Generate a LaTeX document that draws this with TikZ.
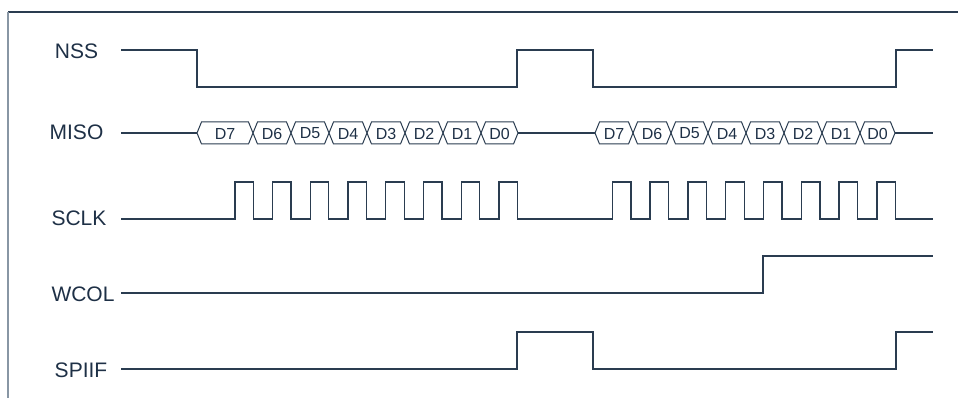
\documentclass[tikz,border=0pt]{standalone}
\usepackage{fontspec}
\setmainfont{Liberation Sans}
\definecolor{wave}{RGB}{42,60,80}
\definecolor{txt}{RGB}{30,48,70}
\definecolor{frameL}{RGB}{136,150,164}
\begin{document}
\begin{tikzpicture}[x=1pt,y=-1pt,
  sig/.style={draw=wave,line width=1.3pt,line join=miter},
  lbl/.style={text=txt,font=\fontsize{21}{21}\selectfont,anchor=center,inner sep=0pt},
  bit/.style={text=txt,font=\fontsize{16}{16}\selectfont,anchor=center,inner sep=0pt}]
\useasboundingbox (0,0) rectangle (958,398);
% frame
\draw[draw=wave,line width=1.5pt] (8,12) -- (958,12);
\draw[draw=frameL,line width=1.5pt] (8,12) -- (8,398);
% labels
\node[lbl] (nss) at (76.5,51) {NSS};
\node[lbl] (miso) at (76.5,132) {MISO};
\node[lbl] (sclk) at (79,218) {SCLK};
\node[lbl] (wcol) at (83,294) {WCOL};
\node[lbl] (spiif) at (81,370) {SPIIF};
% NSS
\draw[sig] (121,50) -- (197,50) -- (197,87) -- (517,87) -- (517,50) -- (593,50) -- (593,87) -- (896,87) -- (896,50) -- (933,50);
% SCLK
\draw[sig] (121,219)
  foreach \k in {0,...,7} { -- ({235+37.7*\k},219) -- ++(0,-37) -- ++(18.4,0) -- ++(0,37) }
  -- (612.3,219)
  foreach \k in {0,...,7} { -- ({612.3+37.8*\k},219) -- ++(0,-37) -- ++(18.6,0) -- ++(0,37) }
  -- (933,219);
% WCOL
\draw[sig] (121,293) -- (763,293) -- (763,256) -- (933,256);
% SPIIF
\draw[sig] (121,369) -- (517,369) -- (517,332) -- (593,332) -- (593,369) -- (896,369) -- (896,332) -- (933,332);
% MISO
\def\hh{11}
\def\dd{4.5}
\draw[sig] (121,133) -- (197,133);
\draw[sig] (518,133) -- (595,133);
\draw[sig] (895,133) -- (933,133);
\foreach \a/\b/\t [count=\i] in {197/253/D7,253/291/D6,291/329/D5,329/367/D4,367/405/D3,405/443/D2,443/481/D1,481/518/D0}{
  \draw[draw=wave,line width=1pt] (\a,133) -- ++(\dd,-\hh) -- ({\b-\dd},{133-\hh}) -- (\b,133) -- ({\b-\dd},{133+\hh}) -- ({\a+\dd},{133+\hh}) -- cycle;
  \node[bit] (a\i) at ({(\a+\b)/2},133.5) {\t};
}
\foreach \a/\b/\t [count=\i] in {595/633/D7,633/671/D6,671/708/D5,708/746/D4,746/784/D3,784/822/D2,822/860/D1,860/895/D0}{
  \draw[draw=wave,line width=1pt] (\a,133) -- ++(\dd,-\hh) -- ({\b-\dd},{133-\hh}) -- (\b,133) -- ({\b-\dd},{133+\hh}) -- ({\a+\dd},{133+\hh}) -- cycle;
  \node[bit] (b\i) at ({(\a+\b)/2},133.5) {\t};
}
\end{tikzpicture}
\end{document}
